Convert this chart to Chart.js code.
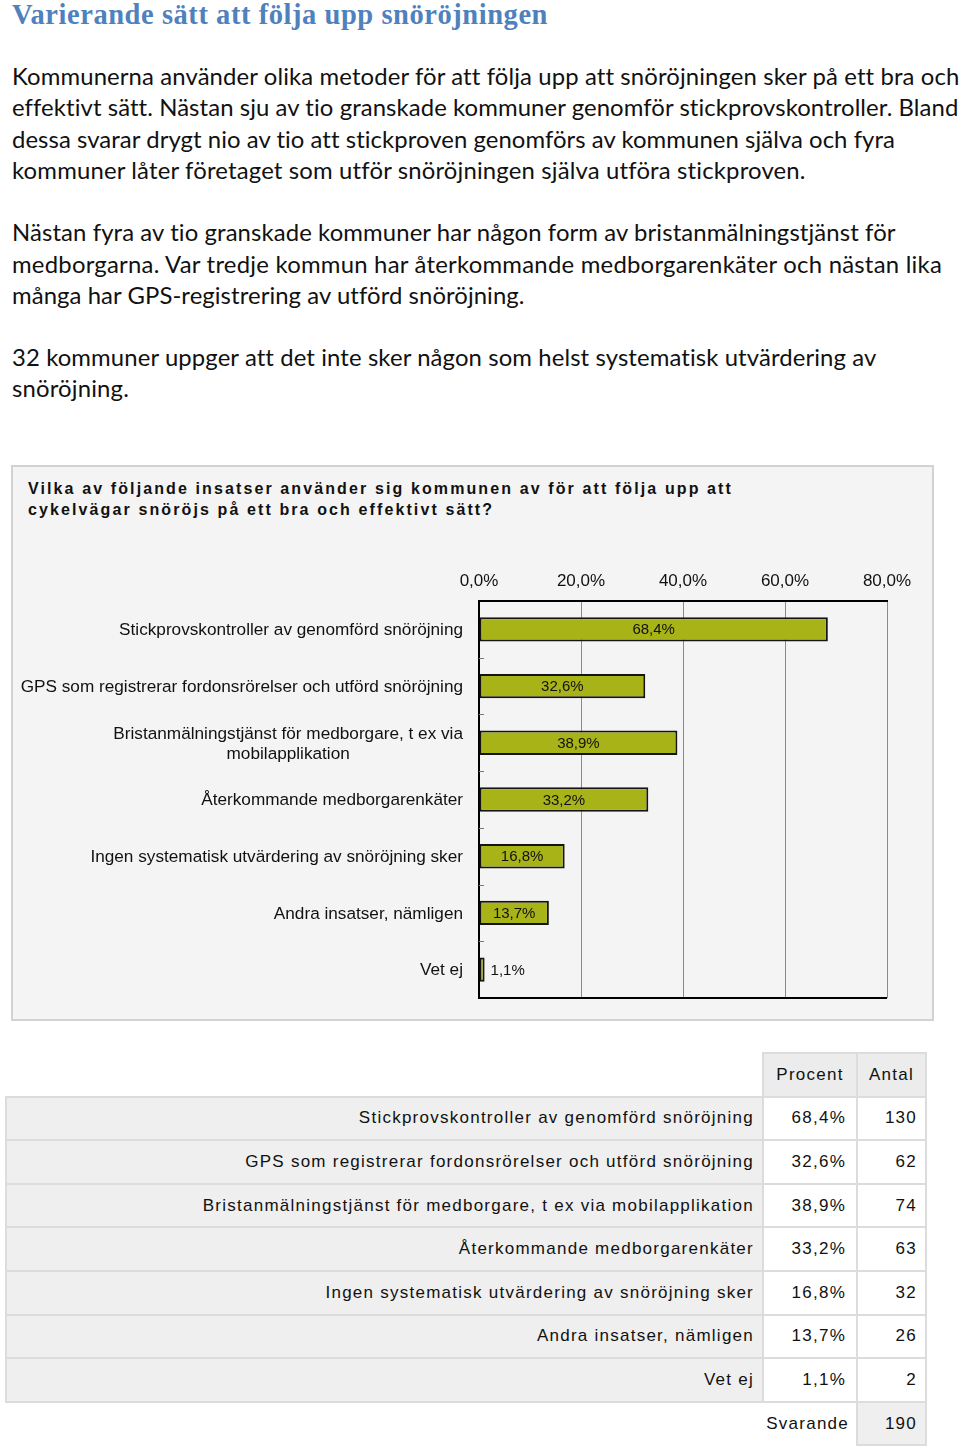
<!DOCTYPE html>
<html><head><meta charset="utf-8">
<script src="https://cdn.jsdelivr.net/npm/chart.js@4.4.1/dist/chart.umd.min.js"></script>
<style>
html,body{margin:0;padding:0;background:#fff;}
body{width:960px;height:1447px;position:relative;overflow:hidden;}
.abs{position:absolute;white-space:nowrap;width:max-content;}
#title{left:12px;top:-2.5px;font-family:"Liberation Serif",serif;font-weight:bold;font-size:28.5px;line-height:34px;color:#4f81bd;}
.body{left:12px;font-family:Lato,"Open Sans",sans-serif;font-size:22px;line-height:31.5px;color:#111;}
#panel{position:absolute;left:11px;top:465px;width:919px;height:552px;background:#f4f4f4;border:2px solid #d2d2d2;}
.q{left:28px;font-family:"Liberation Sans",Arial,sans-serif;font-weight:bold;font-size:16px;line-height:21px;color:#111;letter-spacing:1.6px;}
#cv{position:absolute;left:11px;top:540px;}
#tbl{position:absolute;left:5px;top:1052px;border-collapse:collapse;font-family:"Liberation Sans",Arial,sans-serif;font-size:17px;letter-spacing:1.25px;color:#111;}
#tbl td{height:41.6px;padding:0;border:2px solid #dcdcdc;text-align:right;background:#fff;}
#tbl td.lab{background:#efefef;padding-right:8px;}
#tbl td.hd{background:#ececec;text-align:center;}
#tbl td.pc{padding-right:10px;}
#tbl td.an{padding-right:8px;}
#tbl td.none{border:none;background:#fff;}
#tbl td.sv{background:#fff;padding-right:7px;border-left:none;border-bottom:none;}
#tbl td.tot{background:#efefef;padding-right:8px;}
</style></head>
<body>
<div id="title" class="abs" data-w="536">Varierande sätt att följa upp snöröjningen</div>

<div class="abs body" style="top:59.5px" id="ref1" data-w="945">Kommunerna använder olika metoder för att följa upp att snöröjningen sker på ett bra och</div>
<div class="abs body" style="top:91px" data-w="946">effektivt sätt. Nästan sju av tio granskade kommuner genomför stickprovskontroller. Bland</div>
<div class="abs body" style="top:122.5px" data-w="883">dessa svarar drygt nio av tio att stickproven genomförs av kommunen själva och fyra</div>
<div class="abs body" style="top:154px" data-w="793">kommuner låter företaget som utför snöröjningen själva utföra stickproven.</div>

<div class="abs body" style="top:216px" data-w="884">Nästan fyra av tio granskade kommuner har någon form av bristanmälningstjänst för</div>
<div class="abs body" style="top:247.5px" data-w="930">medborgarna. Var tredje kommun har återkommande medborgarenkäter och nästan lika</div>
<div class="abs body" style="top:279px" data-w="512">många har GPS-registrering av utförd snöröjning.</div>

<div class="abs body" style="top:340.5px" data-w="864">32 kommuner uppger att det inte sker någon som helst systematisk utvärdering av</div>
<div class="abs body" style="top:372px" data-w="117">snöröjning.</div>

<div id="panel"></div>
<div class="abs q" style="top:478px" id="q1">Vilka av följande insatser använder sig kommunen av för att följa upp att</div>
<div class="abs q" style="top:499px">cykelvägar snöröjs på ett bra och effektivt sätt?</div>

<canvas id="cv" width="923" height="475" style="width:923px;height:475px"></canvas>

<table id="tbl"></table>

<script>
// ---- data ----
const categories = [
  "Stickprovskontroller av genomförd snöröjning",
  "GPS som registrerar fordonsrörelser och utförd snöröjning",
  "Bristanmälningstjänst för medborgare, t ex via mobilapplikation",
  "Återkommande medborgarenkäter",
  "Ingen systematisk utvärdering av snöröjning sker",
  "Andra insatser, nämligen",
  "Vet ej"
];
const chartLabelLines = [
  ["Stickprovskontroller av genomförd snöröjning"],
  ["GPS som registrerar fordonsrörelser och utförd snöröjning"],
  ["Bristanmälningstjänst för medborgare, t ex via", "mobilapplikation"],
  ["Återkommande medborgarenkäter"],
  ["Ingen systematisk utvärdering av snöröjning sker"],
  ["Andra insatser, nämligen"],
  ["Vet ej"]
];
const percentValues = [68.4, 32.6, 38.9, 33.2, 16.8, 13.7, 1.1];
const countValues = [130, 62, 74, 63, 32, 26, 2];
const respondents = 190;
const xTickValues = [0, 20, 40, 60, 80];
const tableHeaders = ["Procent", "Antal"];
const totalLabel = "Svarande";

const fmtPct = v => v.toFixed(1).replace('.', ',') + '%';

// ---- fit text widths ----
function fitFontSize(els, ref, target) {
  const w = ref.getBoundingClientRect().width;
  const fs = parseFloat(getComputedStyle(ref).fontSize);
  const nfs = fs * target / w;
  els.forEach(e => e.style.fontSize = nfs + 'px');
}
function fitSpacingEach(els) {
  els.forEach(e => {
    const target = parseFloat(e.dataset.w);
    const w = e.getBoundingClientRect().width;
    const ls = parseFloat(getComputedStyle(e).letterSpacing) || 0;
    const n = e.textContent.length;
    e.style.letterSpacing = (ls + (target - w) / n) + 'px';
  });
}
function fitSpacing(els, ref, target) {
  const w = ref.getBoundingClientRect().width;
  const ls = parseFloat(getComputedStyle(ref).letterSpacing) || 0;
  const n = ref.textContent.length;
  const nls = ls + (target - w) / n;
  els.forEach(e => e.style.letterSpacing = nls + 'px');
}
const bodyEls = [...document.querySelectorAll('.body')];
fitFontSize(bodyEls, document.getElementById('ref1'), 935);
fitSpacingEach(bodyEls);
fitSpacingEach([document.getElementById('title')]);
fitSpacing([...document.querySelectorAll('.q')], document.getElementById('q1'), 705);

// ---- table ----
(function buildTable() {
  const t = document.getElementById('tbl');
  let html = '<colgroup><col style="width:757px"><col style="width:94px"><col style="width:69px"></colgroup>';
  html += '<tr><td class="none"></td><td class="hd">' + tableHeaders[0] + '</td><td class="hd">' + tableHeaders[1] + '</td></tr>';
  categories.forEach((c, i) => {
    html += '<tr><td class="lab">' + c + '</td><td class="pc">' + fmtPct(percentValues[i]) + '</td><td class="an">' + countValues[i] + '</td></tr>';
  });
  html += '<tr><td class="none"></td><td class="sv">' + totalLabel + '</td><td class="tot">' + respondents + '</td></tr>';
  t.innerHTML = html;
})();

// ---- chart ----
const FONT = '"Liberation Sans", Arial, sans-serif';
const extras = {
  id: 'extras',
  afterDraw(chart) {
    const ctx = chart.ctx;
    const ca = chart.chartArea;
    const ys = chart.scales.y;
    ctx.save();
    // bottom border
    ctx.strokeStyle = '#000';
    ctx.lineWidth = 2;
    ctx.beginPath();
    ctx.moveTo(ca.left - 1, ca.bottom);
    ctx.lineTo(ca.right, ca.bottom);
    ctx.stroke();
    // small tick marks between categories on left axis
    ctx.strokeStyle = '#777';
    ctx.lineWidth = 1;
    for (let i = 0; i < chartLabelLines.length - 1; i++) {
      const yb = Math.round((ys.getPixelForValue(i) + ys.getPixelForValue(i + 1)) / 2) + 0.5;
      ctx.beginPath();
      ctx.moveTo(ca.left, yb);
      ctx.lineTo(ca.left + 5, yb);
      ctx.stroke();
    }
    // category labels
    ctx.fillStyle = '#111';
    ctx.font = '17.2px ' + FONT;
    ctx.textBaseline = 'middle';
    const xr = ca.left - 16;
    chartLabelLines.forEach((lines, i) => {
      const yc = ys.getPixelForValue(i) + 1;
      const lh = 20;
      if (lines.length === 1) {
        ctx.textAlign = 'right';
        ctx.fillText(lines[0], xr, yc);
      } else {
        const wmax = Math.max(...lines.map(l => ctx.measureText(l).width));
        const cx = xr - wmax / 2;
        ctx.textAlign = 'center';
        lines.forEach((l, k) => ctx.fillText(l, cx, yc + (k - (lines.length - 1) / 2) * lh));
      }
    });
    // value labels
    ctx.font = '15px ' + FONT;
    const meta = chart.getDatasetMeta(0);
    meta.data.forEach((bar, i) => {
      const w = bar.x - bar.base;
      const txt = fmtPct(percentValues[i]);
      if (w > 40) {
        ctx.textAlign = 'center';
        ctx.fillText(txt, (bar.x + bar.base) / 2, bar.y + 1);
      } else {
        ctx.textAlign = 'left';
        ctx.fillText(txt, bar.x + 6, bar.y + 1);
      }
    });
    ctx.restore();
  }
};

new Chart(document.getElementById('cv'), {
  type: 'bar',
  data: {
    labels: categories,
    datasets: [{
      data: percentValues,
      backgroundColor: '#a8b318',
      borderColor: '#141414',
      borderWidth: 2,
      borderSkipped: false,
      barPercentage: 0.43,
      categoryPercentage: 1.0
    }]
  },
  options: {
    indexAxis: 'y',
    responsive: false,
    animation: false,
    layout: { padding: { left: 0, right: 47, top: 0, bottom: 17 } },
    plugins: { legend: { display: false }, tooltip: { enabled: false } },
    scales: {
      x: {
        position: 'top',
        min: 0, max: 80,
        afterBuildTicks: s => { s.ticks = xTickValues.map(v => ({ value: v })); },
        afterFit: s => { s.height = 61; },
        ticks: {
          callback: v => fmtPct(v),
          font: { family: FONT, size: 17 },
          color: '#111',
          padding: 9,
          maxRotation: 0
        },
        grid: { color: '#8a8a8a', lineWidth: 1, drawTicks: false },
        border: { display: true, color: '#000', width: 2 }
      },
      y: {
        afterFit: s => { s.width = 468; },
        ticks: { display: false },
        grid: { display: false, drawTicks: false },
        border: { display: true, color: '#000', width: 2 }
      }
    }
  },
  plugins: [extras]
});
</script>
</body></html>
